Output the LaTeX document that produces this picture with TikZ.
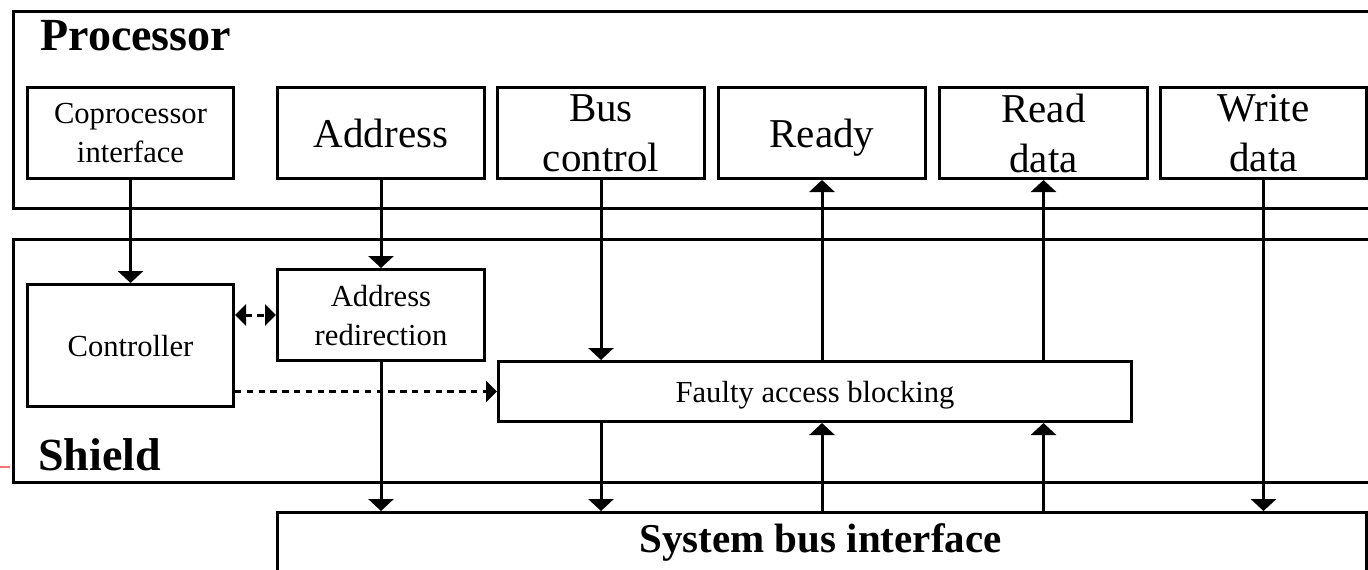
\documentclass[tikz,border=0pt]{standalone}
\usepackage{fontspec}
\setmainfont{Liberation Serif}
\usetikzlibrary{arrows.meta}
\newcommand\fsmall{\fontsize{15.3}{19.5}\selectfont}
\newcommand\fbig{\fontsize{20.5}{25}\selectfont}
\newcommand\ftitle{\fontsize{23}{27}\selectfont\bfseries}
\newcommand\fsbi{\fontsize{20.5}{25}\selectfont\bfseries}
\begin{document}
\begin{tikzpicture}[x=0.5pt,y=-0.5pt]
\tikzset{
 blk/.style={draw, line width=1.5pt, inner sep=0pt, anchor=north west, align=center, text depth=0pt},
 smalltxt/.style={font=\fsmall},
 bigtxt/.style={font=\fbig},
 arr/.style={line width=1.5pt, -{Triangle[width=12.5pt,length=6pt]}},
 darr/.style={line width=1.5pt, dash pattern=on 3.2pt off 2.7pt, -{Triangle[width=10.5pt,length=5.5pt]}},
 ttl/.style={font=\ftitle, inner sep=0pt, anchor=base west},
}
\useasboundingbox (0,0) rectangle (1368,569);
\clip (0,0) rectangle (1368,569);
% containers
\node[blk, minimum width=720pt, minimum height=98.5pt] (proc) at (12,10) {};
\node[blk, minimum width=720pt, minimum height=121.5pt] (shield) at (12,238) {};
\node[blk, minimum width=544.5pt, minimum height=75pt] (sbi) at (276,511) {};
\node[ttl] (proclbl) at (40,50) {Processor};
\node[ttl] (shlbl) at (38,470) {Shield};
\node[font=\fsbi, inner sep=0pt, anchor=base] (sbilbl) at (820.5,552) {System bus interface};
% processor blocks
\node[blk,smalltxt,minimum width=103pt,minimum height=45.5pt] (cop) at (26,86) {Coprocessor\\interface};
\node[blk,bigtxt,minimum width=103.5pt,minimum height=45.5pt] (addr) at (276,86) {Address};
\node[blk,bigtxt,minimum width=103.5pt,minimum height=45.5pt] (bus) at (496,86) {Bus\\control};
\node[blk,bigtxt,minimum width=103.5pt,minimum height=45.5pt] (ready) at (717,86) {Ready};
\node[blk,bigtxt,minimum width=104pt,minimum height=45.5pt] (read) at (938,86) {Read\\data};
\node[blk,bigtxt,minimum width=103pt,minimum height=45.5pt] (write) at (1159,86) {Write\\data};
% shield blocks
\node[blk,smalltxt,minimum width=103pt,minimum height=61pt] (ctrl) at (26,283) {Controller};
\node[blk,smalltxt,minimum width=103.5pt,minimum height=45.5pt] (ared) at (276,268) {Address\\redirection};
\node[blk,smalltxt,minimum width=316.5pt,minimum height=30pt] (fab) at (497,360) {Faulty access blocking};
% red tick
\draw[red!55, line width=0.6pt] (0,467) -- (10,467);
% connectors
\draw[arr] (cop.south) -- (ctrl.north);
\draw[arr] (addr.south) -- (ared.north);
\draw[arr] (ared.south) -- (ared.south |- sbi.north);
\draw[arr] (bus.south) -- (bus.south |- fab.north);
\draw[arr] (bus.south |- fab.south) -- (bus.south |- sbi.north);
\draw[arr] (ready.south |- fab.north) -- (ready.south);
\draw[arr] (ready.south |- sbi.north) -- (ready.south |- fab.south);
\draw[arr] (read.south |- fab.north) -- (read.south);
\draw[arr] (read.south |- sbi.north) -- (read.south |- fab.south);
\draw[arr] (write.south) -- (write.south |- sbi.north);
\draw[darr, {Triangle[width=10.5pt,length=5.5pt]}-{Triangle[width=10.5pt,length=5.5pt]}] (ared.west -| ctrl.east) -- (ared.west);
\draw[darr] (fab.west -| ctrl.east) -- (fab.west);
\end{tikzpicture}
\end{document}
